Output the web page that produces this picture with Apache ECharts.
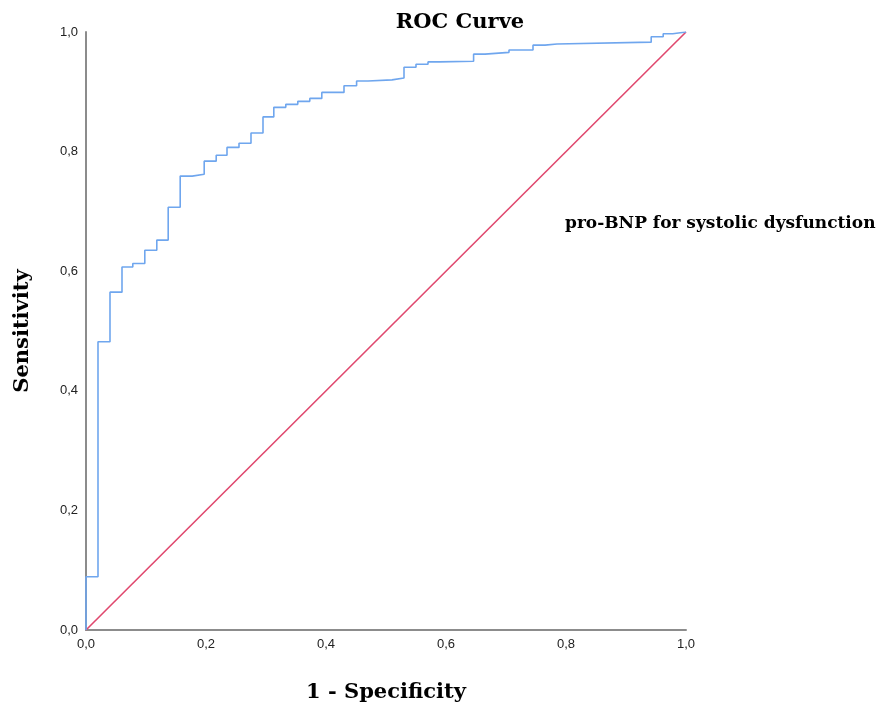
<!DOCTYPE html>
<html>
<head>
<meta charset="utf-8">
<script src="https://cdn.jsdelivr.net/npm/echarts@6/dist/echarts.min.js"></script>
<style>html,body{margin:0;padding:0;background:#fff}#c{width:884px;height:711px}</style>
</head>
<body>
<div id="c"></div>
<script>
// ROC step points: false positive rate (1 - specificity) and sensitivity
const fpr = [0, 0, 0.02, 0.04, 0.06, 0.078, 0.098, 0.118, 0.137, 0.157, 0.177, 0.197, 0.217, 0.235, 0.255, 0.275, 0.295, 0.313, 0.333, 0.353, 0.373, 0.393, 0.430, 0.451, 0.470, 0.510, 0.530, 0.550, 0.570, 0.589, 0.646, 0.665, 0.705, 0.745, 0.765, 0.785, 0.942, 0.962, 0.978, 1.0];
const tpr = [0, 0.089, 0.482, 0.565, 0.607, 0.613, 0.635, 0.652, 0.707, 0.759, 0.762, 0.784, 0.794, 0.807, 0.814, 0.831, 0.858, 0.874, 0.879, 0.884, 0.889, 0.899, 0.910, 0.918, 0.920, 0.923, 0.941, 0.946, 0.950, 0.951, 0.963, 0.966, 0.970, 0.978, 0.980, 0.983, 0.992, 0.997, 1.0, 1.0];
const refX = [0, 1];
const refY = [0, 1];
const tickValues = [0, 0.2, 0.4, 0.6, 0.8, 1.0];
const seriesName = 'pro-BNP for systolic dysfunction';

const fmt = v => v.toFixed(1).replace('.', ',');
const serif = '"DejaVu Serif", "Liberation Serif", serif';
const sans = '"Liberation Sans", Arial, sans-serif';

// build step corners: horizontal to the next fpr, then vertical rise
const rocPts = [];
for (let i = 0; i < fpr.length; i++) {
  if (i > 0) rocPts.push([fpr[i], tpr[i - 1]]);
  rocPts.push([fpr[i], tpr[i]]);
}

const chart = echarts.init(document.getElementById('c'));
chart.setOption({
  animation: false,
  backgroundColor: '#fff',
  title: {
    text: 'ROC Curve',
    left: 455, top: 7, textAlign: 'center',
    textStyle: { fontFamily: serif, fontSize: 21, fontWeight: 'bold', color: '#000' }
  },
  graphic: [{
    type: 'text', left: 565, top: 215,
    style: { text: seriesName, fontFamily: serif, fontSize: 17, fontWeight: 'bold', fill: '#000' }
  }],
  grid: { left: 86, right: 198, top: 32, bottom: 81, containLabel: false },
  xAxis: {
    type: 'value', min: 0, max: 1, interval: 0.2,
    name: '1 - Specificity', nameLocation: 'middle', nameGap: 52,
    nameTextStyle: { fontFamily: serif, fontSize: 21, fontWeight: 'bold', color: '#000' },
    axisLine: { lineStyle: { color: '#8c8c8c', width: 2 } },
    axisTick: { show: false },
    splitLine: { show: false },
    axisLabel: { formatter: fmt, fontFamily: sans, fontSize: 13, color: '#222', margin: 8 }
  },
  yAxis: {
    type: 'value', min: 0, max: 1, interval: 0.2,
    name: 'Sensitivity', nameLocation: 'middle', nameGap: 53,
    nameTextStyle: { fontFamily: serif, fontSize: 21, fontWeight: 'bold', color: '#000' },
    axisLine: { show: true, lineStyle: { color: '#8c8c8c', width: 2 } },
    axisTick: { show: false },
    splitLine: { show: false },
    axisLabel: { formatter: fmt, fontFamily: sans, fontSize: 13, color: '#222', margin: 8 }
  },
  series: [
    {
      name: 'Reference', type: 'line', symbol: 'none', silent: true,
      data: refX.map((x, i) => [x, refY[i]]),
      lineStyle: { color: '#e0486e', width: 1.6 }, z: 2
    },
    {
      name: seriesName, type: 'line', symbol: 'none', silent: true,
      data: rocPts,
      lineStyle: { color: '#6fa6ee', width: 1.6 }, z: 3
    }
  ]
});
</script>
</body>
</html>
